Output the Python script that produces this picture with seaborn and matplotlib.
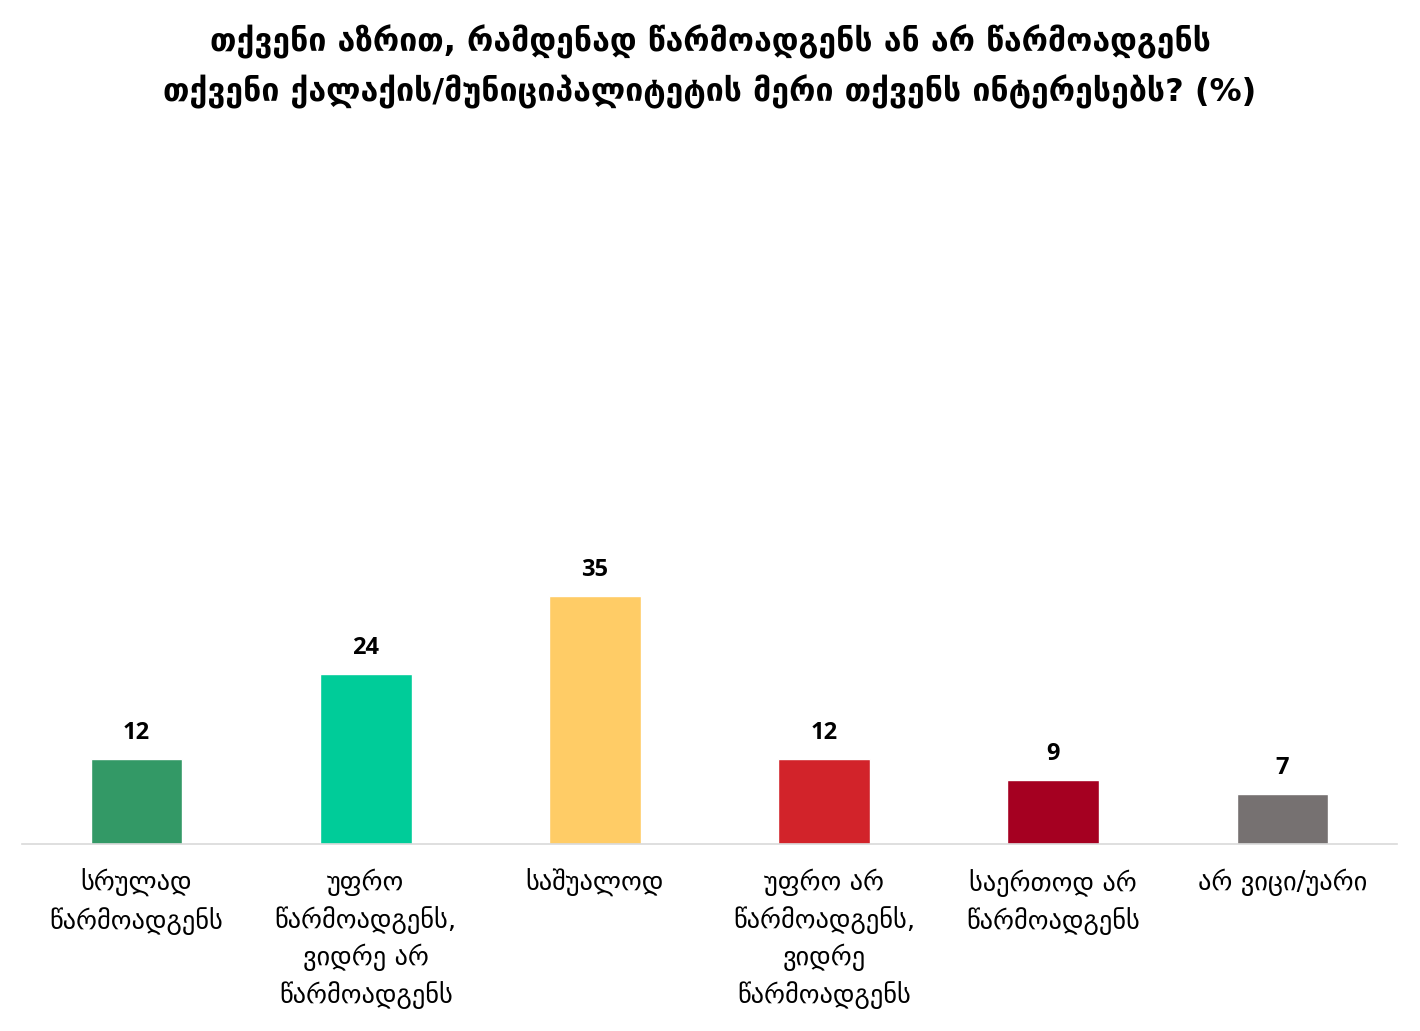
import matplotlib
matplotlib.use("Agg")
import matplotlib.pyplot as plt
import seaborn as sns
import pandas as pd

title = ("თქვენი აზრით, რამდენად წარმოადგენს ან არ წარმოადგენს\n"
         "თქვენი ქალაქის/მუნიციპალიტეტის მერი თქვენს ინტერესებს? (%)")

categories = [
    "სრულად\nწარმოადგენს",
    "უფრო\nწარმოადგენს,\nვიდრე არ\nწარმოადგენს",
    "საშუალოდ",
    "უფრო არ\nწარმოადგენს,\nვიდრე\nწარმოადგენს",
    "საერთოდ არ\nწარმოადგენს",
    "არ ვიცი/უარი",
]
values = [12, 24, 35, 12, 9, 7]
colors = ["#339966", "#00CC99", "#FFCC66", "#D2232A", "#A50021", "#767171"]

df = pd.DataFrame({"cat": categories, "val": values})

sns.set_theme(style="white")
plt.rcParams["font.family"] = ["DejaVu Sans"]

fig = plt.figure(figsize=(14.2, 10.31), dpi=100)
ax = fig.add_axes([0.0155, 0.1814, 0.9683, 0.6876])

sns.barplot(data=df, x="cat", y="val", hue="cat", palette=colors,
            width=0.4, legend=False, ax=ax, saturation=1)

for i, v in enumerate(values):
    ax.text(i, v + 2, str(v), ha="center", va="bottom",
            fontsize=17, fontweight="bold", color="black",
            family=["Open Sans", "DejaVu Sans"])

ax.set_xlim(-0.5, len(categories) - 0.5)
ax.set_ylim(0, 100)
ax.set_xlabel("")
ax.set_ylabel("")
ax.set_yticks([])
ax.tick_params(axis="x", length=0, pad=18, labelsize=19, colors="black")
for s in ["top", "right", "left"]:
    ax.spines[s].set_visible(False)
ax.spines["bottom"].set_color("#D9D9D9")
ax.spines["bottom"].set_linewidth(1.2)
for lbl in ax.get_xticklabels():
    lbl.set_linespacing(1.45)

fig.text(0.5, 0.976, title, ha="center", va="top", fontsize=23,
         fontweight="bold", color="black", linespacing=1.6)

fig.savefig("out.png", dpi=100, facecolor="white")
plt.close(fig)
